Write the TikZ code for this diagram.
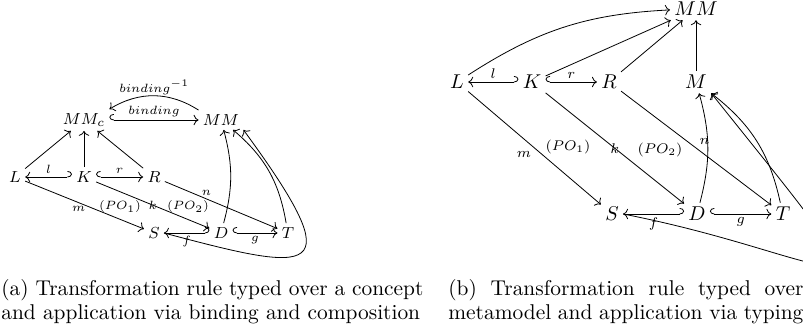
\documentclass[tikz,border=0pt]{standalone}
\usepackage{amsmath}
\usetikzlibrary{arrows.meta,positioning}

\begin{document}
\begin{tikzpicture}[x=0.5pt,y=-0.5pt,
		obja/.style={inner sep=2pt, font=\fontsize{8.5}{10}\selectfont},
		objb/.style={inner sep=2pt},
		laba/.style={font=\fontsize{6}{7}\selectfont, inner sep=1.5pt},
		labb/.style={font=\scriptsize, inner sep=1.5pt},
		hookr/.style={{Hooks[right, width=6pt, length=2.2pt]}->},
		hookl/.style={{Hooks[left, width=6pt, length=2.2pt]}->},
		capt/.style={inner sep=0pt, anchor=north west, align=justify,
			font=\fontsize{10.7}{12}\selectfont}
		]
		\clip (0,0) rectangle (803,331);
		% (a) typed over concept via binding
		\node[obja] (MMc) at (84,120) {$MM_c$};
		\node[obja] (MMa) at (221,120) {$MM$};
		\node[obja] (La) at (15,177) {$L$};
		\node[obja] (Ka) at (84,177) {$K$};
		\node[obja] (Ra) at (154,177) {$R$};
		\node[obja] (Sa) at (154,233) {$S$};
		\node[obja] (Da) at (221,233) {$D$};
		\node[obja] (Ta) at (288,233) {$T$};
		\node[laba] (POa1) at (120,207) {$(PO_1)$};
		\node[laba] (POa2) at (188,207) {$(PO_2)$};
		\draw[hookl] (Ka) -- node[laba, above] {$l$} (La);
		\draw[hookr] (Ka) -- node[laba, above] {$r$} (Ra);
		\draw[->] (La) -- (MMc);
		\draw[->] (Ka) -- (MMc);
		\draw[->] (Ra) -- (MMc);
		\draw[hookr] (MMc) -- node[laba, above] {$binding$} (MMa);
		\draw[->] (MMa.north west) to[bend right=32] node[laba, above=-1pt] {$binding^{-1}$} (MMc.north east);
		\draw[->] (La) -- node[laba, below, pos=0.45] {$m$} (Sa);
		\draw[->] (Ka) -- node[laba] {$k$} (Da);
		\draw[->] (Ra) -- node[laba, above, pos=0.37] {$n$} (Ta);
		\draw[hookl] (Da) -- node[laba, below] {$f$} (Sa);
		\draw[hookr] (Da) -- node[laba, below] {$g$} (Ta);
		\draw[->] (Da) to[bend right=15] (MMa);
		\draw[->] (Ta) to[bend right=20] (MMa);
		\draw[->] (Sa.east) .. controls +(150,40) and +(110,150) .. (MMa.south east);
		% (b) typed over metamodel via typing
		\node[objb] (MMb) at (696,9) {$MM$};
		\node[objb] (Lb) at (457,82) {$L$};
		\node[objb] (Kb) at (532,82) {$K$};
		\node[objb] (Rb) at (609,82) {$R$};
		\node[objb] (Mb) at (696,82) {$M$};
		\node[objb] (Sb) at (612,214) {$S$};
		\node[objb] (Db) at (697,214) {$D$};
		\node[objb] (Tb) at (783,214) {$T$};
		\node[labb] (POb1) at (568,147) {$(PO_1)$};
		\node[labb] (POb2) at (660,150) {$(PO_2)$};
		\draw[hookl] (Kb) -- node[labb, above] {$l$} (Lb);
		\draw[hookr] (Kb) -- node[labb, above] {$r$} (Rb);
		\draw[->] (Lb) to[bend left=15] (MMb);
		\draw[->] (Kb) -- (MMb);
		\draw[->] (Rb) -- (MMb);
		\draw[->] (Mb) -- (MMb);
		\draw[->] (Lb) -- node[labb, below left, pos=0.5] {$m$} (Sb);
		\draw[->] (Kb) -- node[labb] {$k$} (Db);
		\draw[->] (Rb) -- node[labb, above right, pos=0.5] {$n$} (Tb);
		\draw[hookl] (Db) -- node[labb, below] {$f$} (Sb);
		\draw[hookr] (Db) -- node[labb, below] {$g$} (Tb);
		\draw[->] (Db) to[bend right=15] (Mb);
		\draw[->] (Tb) to[bend right=20] (Mb);
		\draw[->] (Sb.east) .. controls +(230,45) and +(200,250) .. (Mb.south east);
		% captions
		\node[capt, text width=211pt] (capa) at (1,279) {\hyphenpenalty=10000\relax
			(a) Transformation rule typed over a concept and application via binding and composition};
		\node[capt, text width=177.5pt] (capb) at (448,279) {\hyphenpenalty=10000\relax
			(b) Transformation rule typed over metamodel and application via typing};
	\end{tikzpicture}
\end{document}
